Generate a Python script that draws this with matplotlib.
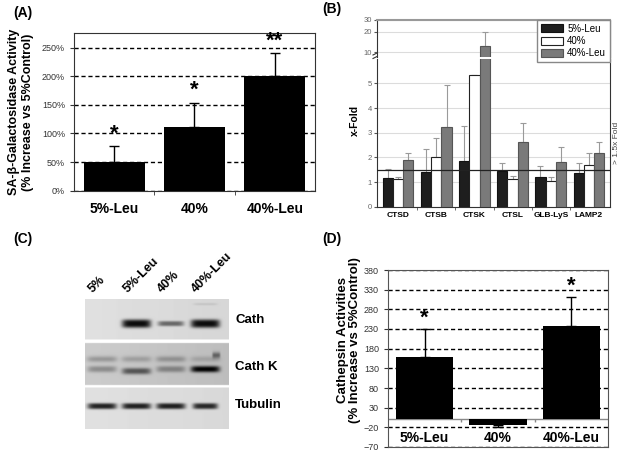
import numpy as np
import matplotlib

matplotlib.use("Agg")
import matplotlib.pyplot as plt
from matplotlib.lines import Line2D
from matplotlib.patches import Patch

plt.rcParams["font.family"] = ["Liberation Sans", "DejaVu Sans"]

# ---- data -------------------------------------------------------------
groups = ["5%-Leu", "40%", "40%-Leu"]

# (A) SA-beta-gal activity, % increase vs 5% control
sa_gal = [50, 111, 200]
sa_gal_err = [28, 43, 40]
sa_gal_stars = ["*", "*", "**"]

# (B) x-fold expression
genes = ["CTSD", "CTSB", "CTSK", "CTSL", "GLB-LyS", "LAMP2"]
fold_5leu = [1.15, 1.42, 1.86, 1.46, 1.22, 1.35]
fold_5leu_err = [0.38, 0.91, 1.42, 0.32, 0.43, 0.43]
fold_40 = [1.14, 2.00, 5.33, 1.12, 1.05, 1.69]
fold_40_err = [0.08, 0.77, 0.0, 0.12, 0.17, 0.50]
fold_40leu = [1.89, 3.24, 12.5, 2.63, 1.80, 2.19]
fold_40leu_err = [0.27, 1.68, 7.5, 0.75, 0.63, 0.42]
fold_cut = 1.5

# (C) western blot band darkness per lane (0 = none, 1 = black)
lanes = ["5%", "5%-Leu", "40%", "40%-Leu"]
blot_rows = ["Cath", "Cath K", "Tubulin"]
cath_band = [0.0, 0.82, 0.45, 0.80]
cathk_upper = [0.20, 0.16, 0.20, 0.12]
cathk_lower = [0.24, 0.45, 0.26, 0.75]
tubulin_band = [0.74, 0.74, 0.74, 0.70]

# (D) cathepsin activities, % increase vs 5% control
cath_act = [160, -13, 237]
cath_act_err_up = [71, 0, 75]
cath_act_err_dn = [0, 6, 0]
cath_stars = ["*", "", "*"]

# ---- layout helpers ---------------------------------------------------
W, H = 629, 457
fig = plt.figure(figsize=(W / 100, H / 100), dpi=100)


def px(l, t, r, b):
    return [l / W, 1 - b / H, (r - l) / W, (b - t) / H]


def ftext(x, y, s, **kw):
    fig.text(x / W, 1 - y / H, s, **kw)


for lab, (x, y) in zip(["(A)", "(B)", "(C)", "(D)"],
                       [(13, 13), (322, 9), (13, 239), (322, 239)]):
    ftext(x, y, lab, fontsize=10, fontweight="bold", va="center")

# ---- (A) --------------------------------------------------------------
axA = fig.add_axes(px(74, 33.3, 315, 190.7))
xa = np.arange(len(groups)) + 0.5
axA.bar(xa, sa_gal, width=0.76, color="black", zorder=3)
axA.errorbar(xa, sa_gal, yerr=[np.zeros(3), sa_gal_err], fmt="none",
             ecolor="black", elinewidth=1, capsize=3.5, capthick=1, zorder=4)
for x, v, e, s in zip(xa, sa_gal, sa_gal_err, sa_gal_stars):
    axA.annotate(s, (x, v + e), xytext=(0, 1), textcoords="offset points",
                 ha="center", va="bottom", fontsize=16, fontweight="bold")
axA.set_xlim(0, 3)
axA.set_ylim(0, 275)
axA.set_yticks(range(0, 251, 50), [f"{v}%" for v in range(0, 251, 50)])
axA.set_axisbelow(True)
axA.yaxis.grid(True, ls=(0, (3, 2)), color="black", lw=1)
axA.set_xticks(xa, groups, fontsize=10, fontweight="bold")
axA.set_xticks(np.arange(1, 3), minor=True)
axA.tick_params(axis="x", which="major", length=0, pad=8)
axA.tick_params(axis="x", which="minor", length=3, color="#333")
axA.tick_params(axis="y", labelsize=6.5, labelcolor="#333", length=3, color="#333")
for sp in axA.spines.values():
    sp.set_color("#333")
ftext(21, 112, "SA-β-Galactosidase Activity\n(% Increase vs 5%Control)",
      rotation=90, ha="center", va="center", fontsize=9, fontweight="bold",
      linespacing=1.12)

# ---- (B) --------------------------------------------------------------
low = fig.add_axes(px(377, 58.7, 610, 206.7))
up = fig.add_axes(px(377, 19.7, 610, 56.7))
up.set_zorder(3)
gx = np.arange(len(genes))
bw = 0.27
series = [
    ("5%-Leu", fold_5leu, fold_5leu_err, "#1e1e1e", "#111111"),
    ("40%", fold_40, fold_40_err, "white", "#222222"),
    ("40%-Leu", fold_40leu, fold_40leu_err, "#7a7a7a", "#555555"),
]
for ax in (low, up):
    for k, (name, vals, errs, fc, ec) in enumerate(series):
        xs = gx + (k - 1) * bw
        ax.bar(xs, vals, bw, color=fc, edgecolor=ec, lw=0.8, zorder=3)
        ax.errorbar(xs, vals, yerr=[np.zeros(len(vals)), errs], fmt="none",
                    ecolor="#9a9a9a", elinewidth=0.8, capsize=2, capthick=0.8,
                    zorder=2)
    ax.set_xlim(-0.55, 5.55)
    ax.set_axisbelow(True)
    ax.yaxis.grid(True, color="#dcdcdc", lw=0.8)
    ax.tick_params(axis="y", labelsize=5.5, labelcolor="#666", length=2,
                   color="#555", pad=1.5)
    for sp in ax.spines.values():
        sp.set_color("#333")
        sp.set_linewidth(0.8)

low.set_ylim(0, 6)
low.set_yticks(range(0, 6))
low.spines["top"].set_visible(False)
low.axhline(fold_cut, color="#222", lw=0.9, zorder=4)
low.set_xticks(gx, genes, fontsize=6, fontweight="bold")
low.set_xticks(gx[:-1] + 0.5, minor=True)
low.tick_params(axis="x", which="major", length=0, pad=4)
low.tick_params(axis="x", which="minor", length=2, color="#555")
low.text(1.012, 2.6, "> 1.5x Fold", transform=low.get_yaxis_transform(),
         rotation=90, ha="left", va="center", fontsize=6, color="#444")

up.set_yscale("log")
up.set_ylim(8.6, 30)
up.set_yticks([10, 20, 30], ["10", "20", "30"])
up.yaxis.set_minor_locator(matplotlib.ticker.NullLocator())
up.set_xticks([])
up.spines["bottom"].set_visible(False)
up.spines["top"].set_color("#999")
up.spines["top"].set_linewidth(1.5)
handles = [Patch(facecolor=fc, edgecolor=ec, lw=0.8) for _, _, _, fc, ec in series]
up.legend(handles, [s[0] for s in series], loc="upper right",
          bbox_to_anchor=(1, 1), borderaxespad=0, fontsize=7, fancybox=False,
          edgecolor="#888", framealpha=1, handlelength=2.3, handleheight=0.9,
          labelspacing=0.25, handletextpad=0.4, borderpad=0.4)
for y0 in (51, 54.5):
    fig.add_artist(Line2D([373 / W, 381 / W], [1 - (y0 + 4) / H, 1 - y0 / H],
                          color="#333", lw=0.8))
ftext(355, 120, "x-Fold", rotation=90, ha="center", va="center",
      fontsize=7.5, fontweight="bold")

# ---- (C) western blot -------------------------------------------------
bl, bt, br, bb = 85, 299, 229, 429
axC = fig.add_axes(px(bl, bt, br, bb))
lane_x0, lane_dx = 102, 34.4
lane_x = lane_x0 + lane_dx * np.arange(len(lanes))
res = 4
X, Y = np.meshgrid(np.arange(bl, br, 1 / res), np.arange(bt, bb, 1 / res))
img = np.ones_like(X)
strips = [(299, 339.5, 0.88, 0.84), (343, 385, 0.80, 0.74), (387.5, 429, 0.88, 0.85)]
for top, bot, bg0, bg1 in strips:
    m = (Y >= top) & (Y < bot)
    # slight left-to-right shading of the scanned film
    img[m] = (bg0 + (bg1 - bg0) * (X - bl) / (br - bl))[m]


def band(xc, yc, d, hw, hh, p=2):
    return d * np.exp(-np.abs((X - xc) / hw) ** 6) * np.exp(-np.abs((Y - yc) / hh) ** p)


for i, xc in enumerate(lane_x):
    img -= band(xc, 323.5, cath_band[i], 14.5 if i != 2 else 13, 4.2 if i != 2 else 2.6, 3)
    img -= band(xc, 359, cathk_upper[i], 15, 3.0)
    img -= band(xc, 369 + (2 if i == 1 else 0), cathk_lower[i], 14.5, 3.2, 2.5)
    img -= band(xc, 406, tubulin_band[i], 14.5 if i < 3 else 12.5, 3.0, 3)
img -= band(lane_x[3], 304, 0.08, 12, 1.2)
img -= band(lane_x[3] + 11, 355, 0.35, 4, 3)
img = np.clip(img, 0, 1)
axC.imshow(img, cmap="gray", vmin=0, vmax=1, extent=(bl, br, bb, bt),
           interpolation="bilinear", aspect="auto")
axC.set_xlim(bl, br)
axC.set_ylim(bb, bt)
axC.axis("off")
for xc, lab in zip(lane_x, lanes):
    ftext(xc - 9, 293, lab, rotation=45, rotation_mode="anchor", ha="left",
          va="baseline", fontsize=9, fontweight="bold")
for y, lab in zip([320, 367, 405], blot_rows):
    ftext(235, y, lab, va="center", fontsize=9.5, fontweight="bold")

# ---- (D) --------------------------------------------------------------
axD = fig.add_axes(px(388, 270, 608, 447))
xd = np.arange(len(groups)) + 0.5
axD.bar(xd, cath_act, width=0.78, color="black", zorder=3)
axD.errorbar(xd, cath_act, yerr=[cath_act_err_dn, cath_act_err_up], fmt="none",
             ecolor="black", elinewidth=1, capsize=3.5, capthick=1, zorder=4)
for x, v, e, s in zip(xd, cath_act, cath_act_err_up, cath_stars):
    axD.annotate(s, (x, v + e), xytext=(0, 0), textcoords="offset points",
                 ha="center", va="bottom", fontsize=16, fontweight="bold")
axD.set_xlim(0, 3)
axD.set_ylim(-70, 380)
axD.set_yticks(range(-70, 381, 50))
axD.set_axisbelow(True)
axD.yaxis.grid(True, ls=(0, (3, 2)), color="black", lw=1)
axD.axhline(0, color="#888", lw=1, zorder=2)
axD.vlines(np.arange(1, 3), -6, 0, color="#888", lw=1, zorder=2)
axD.set_xticks([])
for x, lab in zip(xd, groups):
    axD.text(x, -46, lab, ha="center", va="center", fontsize=10,
             fontweight="bold")
axD.tick_params(axis="y", labelsize=6.5, labelcolor="#333", length=3, color="#333")
for sp in axD.spines.values():
    sp.set_color("#555")
ftext(349, 340, "Cathepsin Activities\n(% Increase vs 5%Control)",
      rotation=90, ha="center", va="center", fontsize=9.5, fontweight="bold",
      linespacing=1.05)

fig.savefig("out.png", dpi=100)
